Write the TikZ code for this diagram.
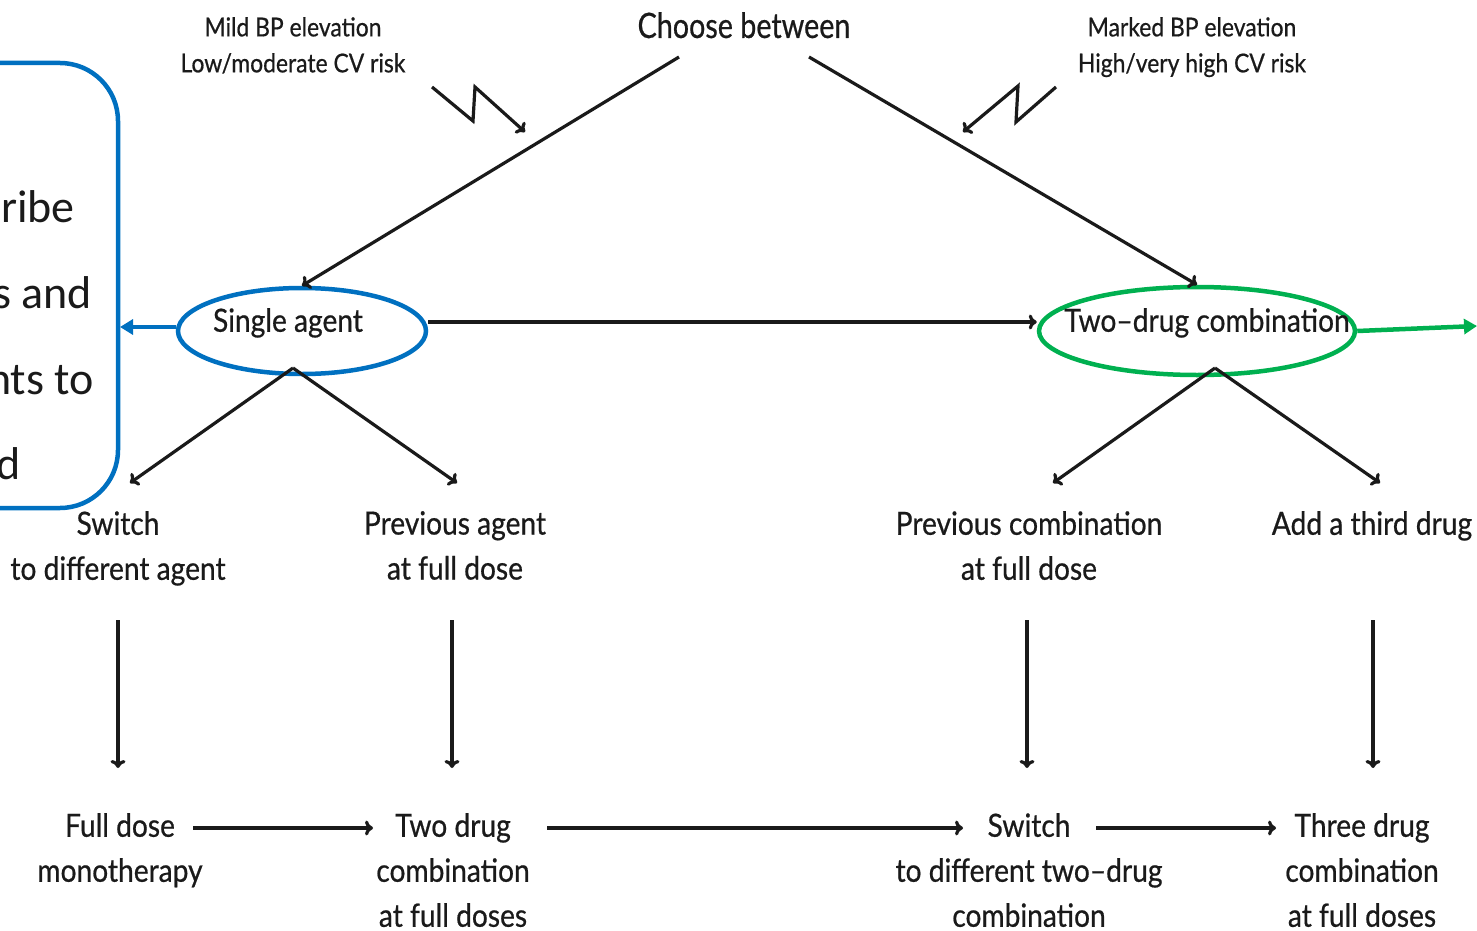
\documentclass[tikz,border=0pt]{standalone}
\usepackage{fontspec}
\setmainfont[FakeStretch=0.88,FakeBold=0.6]{Lato}
\newfontfamily\choosefont[FakeStretch=0.82,FakeBold=0.6]{Lato}
\newfontfamily\boxfont{Carlito}
\usetikzlibrary{arrows.meta,shapes.geometric}
\definecolor{myblue}{HTML}{0070C0}
\definecolor{mygreen}{HTML}{00B050}
\definecolor{ink}{HTML}{1A1A1A}
\begin{document}
\begin{tikzpicture}[x=1pt,y=-1pt,
  txt/.style={font=\fontsize{32}{45}\selectfont, align=center, inner sep=0, text=ink, anchor=north},
  smalltxt/.style={font=\fontsize{26}{36}\selectfont, align=center, inner sep=0, text=ink, anchor=north},
  bigtxt/.style={font=\choosefont\fontsize{35}{42}\selectfont, align=center, inner sep=0, text=ink, anchor=north},
  boxtxt/.style={font=\boxfont\fontsize{46}{50}\selectfont, inner sep=0, text=ink, anchor=base east},
  conn/.style={draw=ink, line width=3.2pt, line join=miter, -{To[length=8pt,width=15pt]}},
  oval/.style={ellipse, line width=4.5pt, inner sep=0},
]
\useasboundingbox (0,0) rectangle (1477,931);

% left (cut) box
\draw[myblue, line width=4.5pt, rounded corners=58pt] (-120,63) -- (118,63) -- (118,508) -- (-120,508);
\node[boxtxt] (b1) at (75,222) {ribe};
\node[boxtxt] (b2) at (92,308) {s and};
\node[boxtxt] (b3) at (94,394) {nts to};
\node[boxtxt] (b4) at (21,479) {d};
\coordinate (boxR) at (120,327);

% top texts
\node[bigtxt] (choose) at (744,12) {Choose between};
\node[smalltxt] (mild) at (293,17) {Mild BP elevation\\Low/moderate CV risk};
\node[smalltxt] (marked) at (1192,17) {Marked BP elevation\\High/very high CV risk};

% ovals
\node[oval, draw=myblue, minimum width=248, minimum height=86] (single) at (302,331) {};
\node[txt] (singletxt) at (288,308) {Single agent};
\node[oval, draw=mygreen, minimum width=316, minimum height=88] (two) at (1197,331) {};
\node[txt] (twotxt) at (1207,308) {Two--drug combination};

% middle texts
\node[txt] (switch) at (118,511) {Switch\\to different agent};
\node[txt] (prevagent) at (455,511) {Previous agent\\at full dose};
\node[txt] (prevcomb) at (1029,511) {Previous combination\\at full dose};
\node[txt] (third) at (1372,511) {Add a third drug};

% bottom texts
\node[txt] (fulldose) at (120,813) {Full dose\\monotherapy};
\node[txt] (twodrug) at (453,813) {Two drug\\combination\\at full doses};
\node[txt] (switchtwo) at (1029,813) {Switch\\to different two--drug\\combination};
\node[txt] (threedrug) at (1362,813) {Three drug\\combination\\at full doses};

% connector coordinates
\coordinate (cL) at (679,57);
\coordinate (cR) at (809,57);
\coordinate (hy) at (0,322);
\coordinate (sb) at (293,368);
\coordinate (tb) at (1215,368);
\coordinate (swTop) at (130,483);
\coordinate (paTop) at (457,483);
\coordinate (pcTop) at (1053,483);
\coordinate (thTop) at (1380,483);
\coordinate (v1a) at (118,620);  \coordinate (v1b) at (118,768);
\coordinate (v2a) at (452,620);  \coordinate (v2b) at (452,768);
\coordinate (v3a) at (1027,620); \coordinate (v3b) at (1027,768);
\coordinate (v4a) at (1373,620); \coordinate (v4b) at (1373,768);
\coordinate (h1a) at (193,828);  \coordinate (h1b) at (373,828);
\coordinate (h2a) at (547,828);  \coordinate (h2b) at (963,828);
\coordinate (h3a) at (1096,828); \coordinate (h3b) at (1276,828);
\coordinate (greenEnd) at (1477,326);
\coordinate (zl1) at (432,87); \coordinate (zl2) at (473,121); \coordinate (zl3) at (475,87); \coordinate (zl4) at (525,132);
\coordinate (zr1) at (1056,87); \coordinate (zr2) at (1016,122); \coordinate (zr3) at (1018,86); \coordinate (zr4) at (963,132);

% connectors
\draw[conn] (cL) -- (single.north);
\draw[conn] (cR) -- (two.north);
\draw[conn] (zl1) -- (zl2) -- (zl3) -- (zl4);
\draw[conn] (zr1) -- (zr2) -- (zr3) -- (zr4);
\draw[conn] (single.east |- hy) -- (two.west |- hy);
\draw[myblue, line width=4.5pt, -{Triangle[length=13pt,width=15pt]}] (single.west |- boxR) -- (boxR);
\draw[mygreen, line width=4.5pt, -{Triangle[length=13pt,width=15pt]}] (two.east) -- (greenEnd);
\draw[conn] (sb) -- (swTop);
\draw[conn] (sb) -- (paTop);
\draw[conn] (tb) -- (pcTop);
\draw[conn] (tb) -- (thTop);
\draw[conn] (v1a) -- (v1b);
\draw[conn] (v2a) -- (v2b);
\draw[conn] (v3a) -- (v3b);
\draw[conn] (v4a) -- (v4b);
\draw[conn] (h1a) -- (h1b);
\draw[conn] (h2a) -- (h2b);
\draw[conn] (h3a) -- (h3b);
\end{tikzpicture}
\end{document}
